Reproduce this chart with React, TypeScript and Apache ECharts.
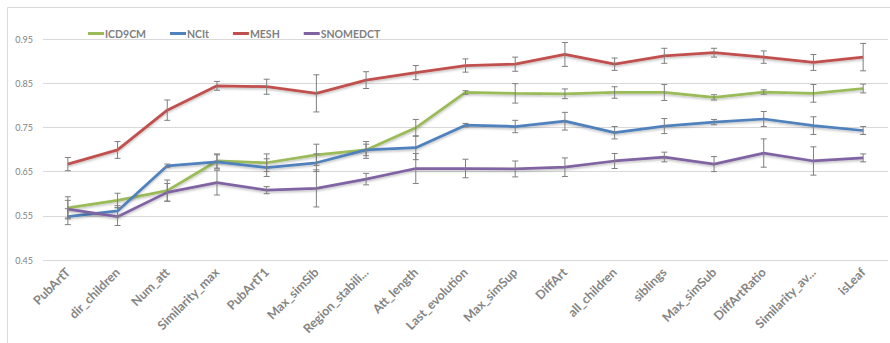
import React, { useEffect, useRef } from "react";
import * as echarts from "echarts";

const categories = [
  "PubArtT", "dir_children", "Num_att", "Similarity_max", "PubArtT1", "Max_simSib",
  "Region_stabili...", "Att_length", "Last_evolution", "Max_simSup", "DiffArt",
  "all_children", "siblings", "Max_simSub", "DiffArtRatio", "Similarity_av...", "isLeaf",
];

const seriesNames = ["ICD9CM", "NCIt", "MESH", "SNOMEDCT"];

const icd9cm = [0.568, 0.585, 0.607, 0.674, 0.670, 0.688, 0.699, 0.749, 0.829, 0.827, 0.826, 0.829, 0.829, 0.818, 0.830, 0.827, 0.838];
const icd9cmErr = [0.025, 0.016, 0.024, 0.016, 0.02, 0.024, 0.019, 0.019, 0.004, 0.022, 0.011, 0.013, 0.018, 0.006, 0.005, 0.02, 0.01];

const ncit = [0.548, 0.561, 0.663, 0.672, 0.659, 0.670, 0.699, 0.704, 0.755, 0.752, 0.764, 0.738, 0.753, 0.762, 0.769, 0.754, 0.743];
const ncitErr = [0.018, 0.012, 0.004, 0.016, 0.02, 0.02, 0.013, 0.027, 0.004, 0.014, 0.02, 0.014, 0.017, 0.006, 0.017, 0.02, 0.009];

const mesh = [0.667, 0.699, 0.789, 0.844, 0.842, 0.827, 0.857, 0.874, 0.890, 0.893, 0.915, 0.893, 0.912, 0.919, 0.909, 0.897, 0.909];
const meshErr = [0.015, 0.019, 0.023, 0.01, 0.017, 0.042, 0.019, 0.016, 0.015, 0.016, 0.027, 0.014, 0.017, 0.01, 0.014, 0.018, 0.031];

const snomedct = [0.565, 0.548, 0.603, 0.625, 0.608, 0.612, 0.633, 0.657, 0.657, 0.656, 0.660, 0.674, 0.683, 0.667, 0.692, 0.674, 0.681];
const snomedctErr = [0.02, 0.02, 0.02, 0.028, 0.008, 0.042, 0.013, 0.034, 0.021, 0.018, 0.021, 0.017, 0.011, 0.017, 0.032, 0.032, 0.009];

const yTicks = [0.45, 0.55, 0.65, 0.75, 0.85, 0.95];

const colors = ["#9BBB59", "#4F81BD", "#C0504D", "#8064A2"];

export default function App() {
  const ref = useRef<HTMLDivElement>(null);

  useEffect(() => {
    if (!ref.current) return;
    const chart = echarts.init(ref.current, null, { renderer: "svg" });
    const values = [icd9cm, ncit, mesh, snomedct];
    const errs = [icd9cmErr, ncitErr, meshErr, snomedctErr];

    const lineSeries = seriesNames.map((name, i) => ({
      name,
      type: "line",
      data: values[i],
      symbol: "none",
      lineStyle: {
        color: colors[i],
        width: 2.75,
        shadowColor: "rgba(0,0,0,0.25)",
        shadowBlur: 2,
        shadowOffsetY: 1.5,
      },
      itemStyle: { color: colors[i] },
      z: 2,
    }));

    const errSeries = seriesNames.map((name, i) => ({
      name: name + "_err",
      type: "custom",
      data: values[i].map((v, k) => [k, v - errs[i][k], v + errs[i][k]]),
      z: 3,
      silent: true,
      renderItem: (params: any, api: any) => {
        const x = api.value(0);
        const lo = api.coord([x, api.value(1)]);
        const hi = api.coord([x, api.value(2)]);
        const w = 3;
        const style = { stroke: "#7f7f7f", lineWidth: 1 };
        return {
          type: "group",
          children: [
            { type: "line", shape: { x1: lo[0], y1: lo[1], x2: hi[0], y2: hi[1] }, style },
            { type: "line", shape: { x1: lo[0] - w, y1: lo[1], x2: lo[0] + w, y2: lo[1] }, style },
            { type: "line", shape: { x1: hi[0] - w, y1: hi[1], x2: hi[0] + w, y2: hi[1] }, style },
          ],
        };
      },
    }));

    chart.setOption({
      animation: false,
      backgroundColor: "#ffffff",
      textStyle: { fontFamily: "Lato, 'Liberation Sans', sans-serif" },
      graphic: [
        {
          type: "rect",
          shape: { x: 7.5, y: 7.5, width: 900, height: 360 },
          style: { fill: "none", stroke: "#d9d9d9", lineWidth: 1 },
          silent: true,
        },
      ],
      legend: {
        data: seriesNames,
        left: 88,
        top: 28,
        padding: 0,
        itemGap: 24,
        itemWidth: 16,
        itemHeight: 3,
        icon: "rect",
        textStyle: {
          color: "#7f7f7f",
          fontSize: 10.5,
          fontWeight: "bold",
          fontFamily: "Lato, sans-serif",
          padding: [0, 0, 0, -4],
        },
      },
      grid: { left: 43, right: 2, top: 39, bottom: 83 },
      xAxis: {
        type: "category",
        data: categories,
        boundaryGap: true,
        axisLine: { show: false },
        axisTick: { show: false },
        axisLabel: {
          rotate: 45,
          interval: 0,
          margin: 10,
          color: "#858585",
          fontSize: 12.5,
          fontWeight: "bold",
          fontFamily: "Lato, sans-serif",
        },
      },
      yAxis: {
        type: "value",
        min: 0.45,
        max: 0.95,
        interval: 0.1,
        axisLine: { show: false },
        axisTick: { show: false },
        splitLine: { lineStyle: { color: "#d9d9d9", width: 1 } },
        axisLabel: {
          margin: 10,
          color: "#7f7f7f",
          fontSize: 9,
          fontFamily: "Lato, sans-serif",
          formatter: (v: number) => {
            const t = yTicks.find((y) => Math.abs(y - v) < 1e-6);
            return (t !== undefined ? t : v).toFixed(2);
          },
        },
      },
      series: [...lineSeries, ...errSeries],
    });

    return () => chart.dispose();
  }, []);

  return (
    <div
      ref={ref}
      style={{ position: "fixed", left: 0, top: 0, width: 890, height: 343 }}
    />
  );
}
